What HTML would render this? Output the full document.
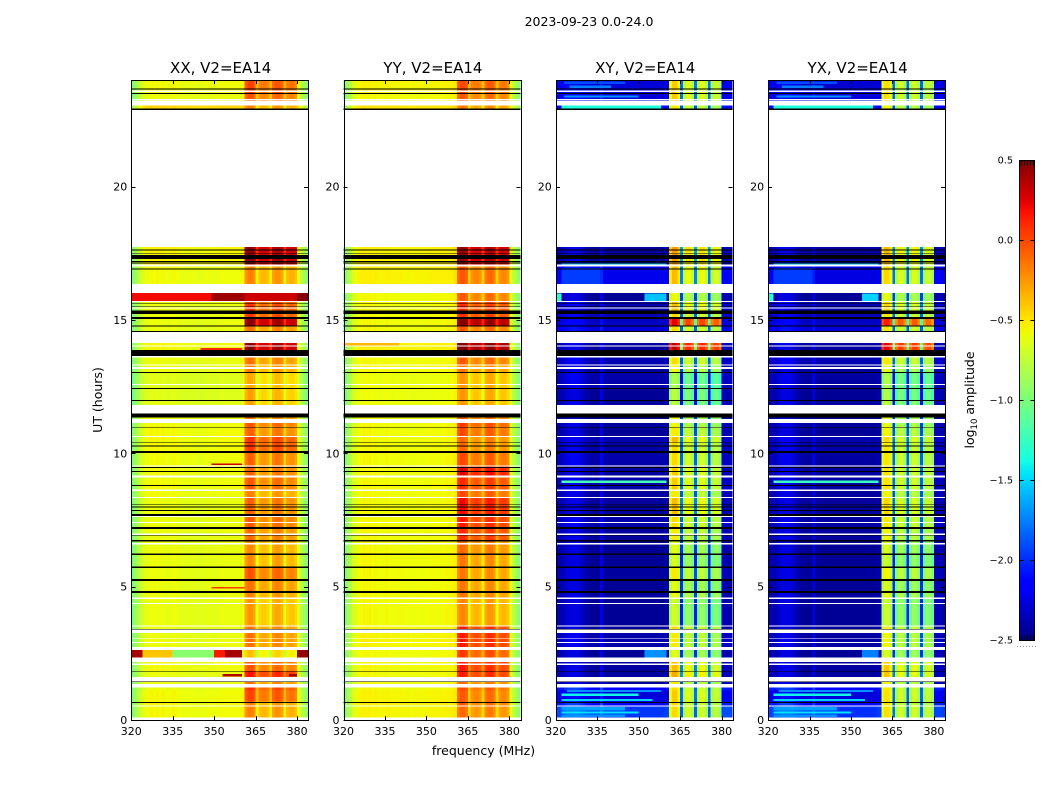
<!DOCTYPE html>
<html>
<head>
<meta charset="utf-8">
<title>2023-09-23 0.0-24.0</title>
<style>
html,body{margin:0;padding:0;background:#fff;}
svg{display:block;}
text{font-family:"DejaVu Sans","Liberation Sans",sans-serif;fill:#000;}
</style>
</head>
<body>
<svg id="chart" xmlns="http://www.w3.org/2000/svg" width="1050" height="800" viewBox="0 0 1050 800">
  <rect x="0" y="0" width="1050" height="800" fill="#fff"/>
  <text x="589" y="26" font-size="12.5" text-anchor="middle">2023-09-23 0.0-24.0</text>
  <text transform="translate(102,400) rotate(-90)" font-size="12.5" text-anchor="middle">UT (hours)</text>
  <text x="483.5" y="755" font-size="12.5" text-anchor="middle">frequency (MHz)</text>
  <text transform="translate(974,400) rotate(-90)" font-size="12.5" text-anchor="middle">log<tspan font-size="8.5" dy="3">10</tspan><tspan dy="-3"> amplitude</tspan></text>
  <g id="panels"></g>
  <g id="colorbar"></g>
</svg>
<script>
// ---------- axis tick values ----------
const freqTicks = [320, 335, 350, 365, 380];
const hourTicks = [0, 5, 10, 15, 20];
const colorTicks = [-2.5, -2.0, -1.5, -1.0, -0.5, 0.0, 0.5];
const colorTickLabels = ['\u22122.5', '\u22122.0', '\u22121.5', '\u22121.0', '\u22120.5', '0.0', '0.5'];
const panelTitles = ['XX, V2=EA14', 'YY, V2=EA14', 'XY, V2=EA14', 'YX, V2=EA14'];

// ---------- spectra: log10 amplitude for each 1 MHz channel, 320-384 MHz ----------
const xxProfile = [-1.0,-.9,-.8,-.72,-.64,-.61,-.6,-.58,-.6,-.58,-.6,-.58,-.6,-.61,-.6,-.58,-.6,-.61,-.62,-.62,-.61,-.62,-.62,-.62,-.63,-.63,-.62,-.62,-.61,-.62,-.62,-.61,-.6,-.6,-.6,-.6,-.6,-.6,-.6,-.6,-.58,-.3,-.22,-.22,-.28,-.6,-.44,-.4,-.4,-.44,-.6,-.34,-.28,-.28,-.34,-.6,-.42,-.38,-.38,-.44,-.62,-.76,-.86,-.96];
const yyProfile = [-1.0,-.9,-.78,-.68,-.61,-.58,-.57,-.55,-.56,-.55,-.57,-.56,-.57,-.58,-.57,-.56,-.57,-.58,-.58,-.58,-.57,-.58,-.58,-.58,-.59,-.58,-.58,-.58,-.58,-.58,-.58,-.57,-.57,-.57,-.57,-.57,-.57,-.56,-.56,-.55,-.53,-.22,-.14,-.14,-.2,-.52,-.34,-.3,-.3,-.34,-.52,-.26,-.2,-.2,-.26,-.52,-.34,-.3,-.3,-.36,-.62,-.76,-.86,-.96];
const xyProfile = [-2.4,-2.4,-2.42,-2.34,-2.3,-2.28,-2.28,-2.28,-2.3,-2.34,-2.4,-2.44,-2.46,-2.47,-2.47,-2.47,-2.25,-2.47,-2.47,-2.47,-2.47,-2.47,-2.47,-2.47,-2.47,-2.47,-2.47,-2.47,-2.47,-2.47,-2.47,-2.47,-2.47,-2.47,-2.47,-2.47,-2.47,-2.47,-2.47,-2.45,-2.42,-.72,-.56,-.56,-.72,-1.95,-.95,-.78,-.78,-.95,-1.95,-.95,-.78,-.78,-.95,-1.95,-1.0,-.86,-.86,-1.02,-2.4,-2.4,-2.4,-2.42];
const yxProfile = [-2.4,-2.4,-2.42,-2.34,-2.3,-2.28,-2.28,-2.28,-2.3,-2.34,-2.4,-2.44,-2.46,-2.47,-2.47,-2.47,-2.27,-2.47,-2.47,-2.47,-2.47,-2.47,-2.47,-2.47,-2.47,-2.47,-2.47,-2.47,-2.47,-2.47,-2.47,-2.47,-2.47,-2.47,-2.47,-2.47,-2.47,-2.47,-2.47,-2.45,-2.42,-.76,-.6,-.6,-.76,-1.95,-.98,-.8,-.8,-.98,-1.95,-.98,-.8,-.8,-.98,-1.95,-1.0,-.86,-.86,-1.02,-2.4,-2.4,-2.4,-2.42];

// ---------- time bands (hours) and per-band level changes ----------
const bandStarts = [0,0.55,0.70,1.10,1.35,1.61,1.84,2.35,2.74,3.39,3.55,4.59,4.84,5.29,5.76,6.25,6.75,7.24,7.72,8.37,8.65,9.16,9.55,10.08,10.43,10.65,11.0,11.28,11.82,12.0,12.45,13.05,13.34,13.88,14.59,14.79,15.11,15.33,15.71,16.35,17.08,22.94,23.21,23.51];
const xxLow  = [.03,.03,.03,0,0,0,.02,-.1,0,0,0,0,0,0,0,0,0,0,0,.02,.02,.02,.02,.03,.03,.03,.02,0,-.03,-.04,-.04,0,0,.03,0,0,0,0,0,.02,.05,.15,0,.02];
const xxHigh = [.05,.05,.25,.3,.1,.4,.2,-.15,.1,.1,-.02,.05,.1,.2,.02,.02,.12,.18,.15,.05,.18,.15,.15,.3,.3,.15,.2,.1,-.05,-.05,-.08,.05,.1,.7,.1,.7,.3,.3,.35,.05,.7,.05,.2,.25];
const yyLow  = [.02,.02,.02,0,0,0,0,0,.02,.02,0,0,0,0,0,0,0,0,0,0,0,0,0,0,0,0,0,-.02,-.02,-.02,-.02,0,0,.03,0,0,0,0,0,.03,.03,.08,0,.02];
const yyHigh = [.05,.1,.1,.15,.05,.3,.3,.2,.3,.3,-.05,0,0,0,0,.05,.25,.3,.35,.15,.25,.4,.15,.05,.05,.15,.2,.1,-.1,-.1,-.1,0,.1,.7,.1,.65,.25,.25,.1,.1,.6,0,.1,.15];
const xyLow  = [.5,.35,.2,.35,.05,.05,.05,.03,.08,.05,.03,.05,.03,.05,.03,.03,.05,.08,.05,.05,.08,.05,.08,.08,.1,.03,.05,0,.05,.03,.08,.05,.1,.05,.2,.15,.1,.1,.03,.25,.05,.3,.2,.2];
const xyHigh = [.1,.1,.15,.1,.05,.25,.2,-.05,.05,.1,-.12,0,-.05,.05,-.1,-.05,.05,.1,.2,.05,.15,.15,.1,.1,.2,.05,0,0,-.2,-.2,-.25,0,.1,.9,.1,.8,.1,.2,0,.2,.3,.05,.15,.15];
const yxLow  = [.48,.35,.2,.35,.05,.05,.05,.03,.06,.05,.03,.05,.03,.05,.03,.03,.05,.06,.05,.05,.06,.05,.06,.08,.1,.03,.05,0,.05,.03,.06,.05,.1,.05,.2,.15,.1,.1,.03,.22,.05,.28,.2,.18];
const yxHigh = [.12,.1,.12,.1,.05,.2,.2,-.05,.05,.08,-.1,0,-.05,.05,-.1,-.05,.05,.1,.15,.05,.12,.12,.1,.1,.15,.05,0,0,-.15,-.2,-.2,0,.1,.85,.1,.75,.1,.15,0,.15,.25,.05,.12,.12];

// ---------- localised bursts: start hour, end hour, start MHz, end MHz, log10 amplitude ----------
const xxBursts = [[1.64,1.72,353,360,.35],[1.64,1.72,377,380,.4],[2.35,2.63,320,324,.4],[2.35,2.63,324,335,-.4],[2.35,2.63,335,350,-.95],[2.35,2.63,350,354,.15],[2.35,2.63,354,360,.4],[2.35,2.63,380,384,.45],[4.93,4.98,349,361,.05],[9.56,9.62,349,360,.3],[13.88,13.95,345,360,.1],[15.71,16.01,320,349,.2],[15.71,16.01,349,361,.42],[15.71,16.01,361,380,.3],[15.71,16.01,380,384,.48]];
const yyBursts = [[14.05,14.14,320,340,-.35],[9.12,9.16,325,345,-.35]];
const xyBursts = [[0.12,0.2,322,345,-1.7],[0.25,0.32,322,350,-1.45],[0.36,0.48,322,345,-1.65],[0.72,0.78,322,355,-1.5],[0.9,1.0,322,350,-1.4],[1.05,1.12,324,358,-1.7],[2.35,2.63,352,360,-1.7],[8.88,8.98,322,360,-1.2],[15.71,16.0,320,322,-1.3],[15.71,16.0,352,360,-1.55],[16.35,16.95,322,336,-1.95],[17.08,17.15,322,360,-1.6],[22.94,23.04,322,358,-1.35],[23.35,23.42,323,350,-1.7],[23.7,23.8,325,340,-1.75],[23.85,23.95,323,345,-1.9]];
const yxBursts = [[0.12,0.2,322,345,-1.7],[0.25,0.32,322,350,-1.45],[0.36,0.48,322,345,-1.65],[0.72,0.78,322,355,-1.5],[0.9,1.0,322,350,-1.4],[1.05,1.12,324,358,-1.7],[2.35,2.63,354,360,-1.75],[8.88,8.98,322,360,-1.25],[15.71,16.0,320,322,-1.35],[15.71,16.0,354,360,-1.5],[16.35,16.95,322,336,-1.95],[17.08,17.15,322,360,-1.6],[22.94,23.04,322,358,-1.35],[23.35,23.42,323,350,-1.7],[23.7,23.8,325,340,-1.75],[23.85,23.95,323,345,-1.9]];

// ---------- flagged time ranges in hours ----------
const missingRanges = [[0,.10],[.50,.55],[1.21,1.35],[1.45,1.61],[2.06,2.11],[2.18,2.35],[2.63,2.74],[2.89,2.93],[3.03,3.06],[3.26,3.39],[3.50,3.55],[4.35,4.39],[4.54,4.59],[6.59,6.63],[6.94,6.99],[7.39,7.43],[7.61,7.65],[8.33,8.37],[8.58,8.65],[9.10,9.16],[9.51,9.55],[10.61,10.65],[11.14,11.28],[11.50,11.82],[12.56,12.60],[13.16,13.24],[13.29,13.34],[13.59,13.65],[14.00,14.05],[14.14,14.55],[15.43,15.47],[15.68,15.71],[16.01,16.35],[17.00,17.08],[17.73,22.875],[23.04,23.21],[23.24,23.28],[23.55,23.60]];
const flagRanges = [[.64,.68],[1.43,1.45],[1.81,1.84],[3.39,3.41],[4.77,4.84],[5.21,5.29],[5.70,5.76],[6.19,6.25],[6.69,6.75],[6.91,6.94],[7.17,7.24],[7.65,7.72],[7.84,7.88],[7.96,8.00],[8.06,8.09],[8.78,8.81],[9.30,9.34],[9.45,9.49],[10.02,10.08],[10.25,10.29],[10.40,10.43],[10.96,10.99],[11.35,11.50],[11.97,12.00],[12.42,12.45],[13.02,13.05],[13.65,13.88],[14.55,14.59],[14.76,14.79],[15.04,15.11],[15.22,15.33],[15.35,15.38],[15.49,15.51],[15.60,15.62],[16.89,16.93],[17.12,17.15],[17.17,17.21],[17.29,17.44],[17.49,17.52],[17.61,17.65],[22.875,22.94],[23.48,23.51],[23.65,23.69]];

const panelData = [
  {key:'xx', profile:xxProfile, low:xxLow, high:xxHigh, bursts:xxBursts},
  {key:'yy', profile:yyProfile, low:yyLow, high:yyHigh, bursts:yyBursts},
  {key:'xy', profile:xyProfile, low:xyLow, high:xyHigh, bursts:xyBursts},
  {key:'yx', profile:yxProfile, low:yxLow, high:yxHigh, bursts:yxBursts}
];

const SVGNS = 'http://www.w3.org/2000/svg';
const PLOT_TOP = 80, PLOT_BOTTOM = 720, PANEL_W = 176.9;
const PANEL_LEFTS = [131.25, 343.5, 555.8, 768.1];
const FREQ_MIN = 320, FREQ_MAX = 384, HOUR_MAX = 24, HIGH_START_CHANNEL = 41, HIGH_END_CHANNEL = 60;
const V_MIN = -2.5, V_MAX = 0.5;
const CB_LEFT = 1019.5, CB_RIGHT = 1034.5, CB_TOP = 160.5, CB_BOTTOM = 640.5;

function yScale(h){ return PLOT_BOTTOM - h * (PLOT_BOTTOM - PLOT_TOP) / HOUR_MAX; }
function xScale(left, f){ return left + (f - FREQ_MIN) * PANEL_W / (FREQ_MAX - FREQ_MIN); }
function cbScale(v){ return CB_BOTTOM - (v - V_MIN) / (V_MAX - V_MIN) * (CB_BOTTOM - CB_TOP); }

function interp(points, t){
  for (let i = 1; i < points.length; i++) {
    if (t <= points[i][0]) {
      const a = points[i-1], b = points[i];
      return a[1] + (b[1]-a[1]) * (t-a[0]) / (b[0]-a[0]);
    }
  }
  return points[points.length-1][1];
}
const jetR = [[0,0],[.35,0],[.66,1],[.89,1],[1,.5]];
const jetG = [[0,0],[.125,0],[.375,1],[.64,1],[.91,0],[1,0]];
const jetB = [[0,.5],[.11,1],[.34,1],[.65,0],[1,0]];
function jet(v){
  const t = Math.max(0, Math.min(1, (v - V_MIN) / (V_MAX - V_MIN)));
  const c = p => Math.round(255 * interp(p, t));
  return 'rgb(' + c(jetR) + ',' + c(jetG) + ',' + c(jetB) + ')';
}
function mk(parent, tag, attrs){
  const el = document.createElementNS(SVGNS, tag);
  for (const k in attrs) el.setAttribute(k, attrs[k]);
  parent.appendChild(el);
  return el;
}

const panelsRoot = document.getElementById('panels');
panelData.forEach((panel, p) => {
  const left = PANEL_LEFTS[p];
  const group = mk(panelsRoot, 'g', {});
  
  

  // heatmap cells
  bandStarts.forEach((start, b) => {
    const end = b + 1 < bandStarts.length ? bandStarts[b+1] : HOUR_MAX;
    panel.profile.forEach((base, ch) => {
      const isHigh = ch >= HIGH_START_CHANNEL && ch < HIGH_END_CHANNEL;
      const value = base + (isHigh ? panel.high[b] : panel.low[b]);
      const x0 = xScale(left, FREQ_MIN + ch), x1 = xScale(left, FREQ_MIN + ch + 1);
      const cell = mk(group, 'rect', {x:x0, y:yScale(end), width:x1-x0, height:yScale(start)-yScale(end), fill:jet(value), 'shape-rendering':'crispEdges'});
      
      
    });
  });

  // localised bursts
  panel.bursts.forEach(bu => {
    const x0 = xScale(left, bu[2]), x1 = xScale(left, bu[3]);
    const burst = mk(group, 'rect', {x:x0, y:yScale(bu[1]), width:x1-x0, height:yScale(bu[0])-yScale(bu[1]), fill:jet(bu[4]), 'shape-rendering':'crispEdges'});
    
    
  });

  // missing data (white) and flagged lines (black)
  missingRanges.forEach(r => {
    const gap = mk(group, 'rect', {x:left, y:yScale(r[1]), width:PANEL_W, height:yScale(r[0])-yScale(r[1]), fill:'#fff', 'shape-rendering':'crispEdges'});
    
    
  });
  flagRanges.forEach(r => {
    const line = mk(group, 'rect', {x:left, y:yScale(r[1]), width:PANEL_W, height:yScale(r[0])-yScale(r[1]), fill:'#000', 'shape-rendering':'crispEdges'});
    
    
  });

  // frame
  const frame = mk(group, 'rect', {x:Math.round(left)+.5, y:PLOT_TOP+.5, width:Math.round(PANEL_W), height:PLOT_BOTTOM-PLOT_TOP, fill:'none', stroke:'#000', 'stroke-width':1, 'shape-rendering':'crispEdges'});
  
  

  // x ticks
  freqTicks.forEach(f => {
    const x = Math.round(xScale(left, f)) + .5;
    const tb = mk(group, 'line', {x1:x, x2:x, y1:PLOT_BOTTOM, y2:PLOT_BOTTOM-4, stroke:'#000', 'shape-rendering':'crispEdges'});
    
    
    const tt = mk(group, 'line', {x1:x, x2:x, y1:PLOT_TOP, y2:PLOT_TOP+4, stroke:'#000', 'shape-rendering':'crispEdges'});
    
    
    const lab = mk(group, 'text', {x:xScale(left, f), y:735, 'font-size':11, 'text-anchor':'middle'});
    lab.textContent = String(f);
    
    
  });

  // y ticks
  hourTicks.forEach(h => {
    const y = Math.round(yScale(h)) + .5;
    const right = left + PANEL_W;
    const tl = mk(group, 'line', {x1:left, x2:left+4, y1:y, y2:y, stroke:'#000', 'shape-rendering':'crispEdges'});
    
    
    const tr = mk(group, 'line', {x1:right-4, x2:right, y1:y, y2:y, stroke:'#000', 'shape-rendering':'crispEdges'});
    
    
    const lab = mk(group, 'text', {x:left-4, y:yScale(h)+4, 'font-size':11, 'text-anchor':'end'});
    lab.textContent = String(h);
    
    
  });

  // title
  const title = mk(group, 'text', {x:left+PANEL_W/2+1, y:73, 'font-size':15, 'text-anchor':'middle'});
  title.textContent = panelTitles[p];
  
  
});

// ---------- colorbar ----------
const cbRoot = document.getElementById('colorbar');
const defs = mk(cbRoot, 'defs', {});
const grad = mk(defs, 'linearGradient', {id:'jetGradient', x1:0, y1:1, x2:0, y2:0});
for (let i = 0; i <= 48; i++) {
  mk(grad, 'stop', {offset:(i/48), 'stop-color':jet(V_MIN + (V_MAX - V_MIN) * i / 48)});
}
const cbFill = mk(cbRoot, 'rect', {x:CB_LEFT, y:CB_TOP, width:CB_RIGHT-CB_LEFT, height:CB_BOTTOM-CB_TOP, fill:'url(#jetGradient)', stroke:'#000', 'stroke-width':1, 'shape-rendering':'crispEdges'});



colorTicks.forEach((v, i) => {
  const y = Math.round(cbScale(v) - .5) + .5;
  const a = mk(cbRoot, 'line', {x1:CB_LEFT, x2:CB_LEFT+4, y1:y, y2:y, stroke:'#000', 'shape-rendering':'crispEdges'});
  
  
  const b = mk(cbRoot, 'line', {x1:CB_RIGHT-4, x2:CB_RIGHT, y1:y, y2:y, stroke:'#000', 'shape-rendering':'crispEdges'});
  
  
  const lab = mk(cbRoot, 'text', {x:1013, y:cbScale(v)+3, 'font-size':9.7, 'text-anchor':'end'});
  lab.textContent = colorTickLabels[i];
  
  
});
[0, 1, 2, 3, 4].forEach(i => {
  const x = Math.round(CB_LEFT + (i + .5) * (CB_RIGHT - CB_LEFT) / 5) + .5;
  const top = mk(cbRoot, 'line', {x1:x, x2:x, y1:CB_TOP, y2:CB_TOP+5, stroke:'#000', 'shape-rendering':'crispEdges'});
  
  
  const bot = mk(cbRoot, 'line', {x1:x, x2:x, y1:CB_BOTTOM-5, y2:CB_BOTTOM, stroke:'#000', 'shape-rendering':'crispEdges'});
  
  
});
[0, 1, 2, 3, 4, 5, 6].forEach(i => {
  const dot = mk(cbRoot, 'rect', {x:1017 + i * 3, y:646, width:1, height:1, fill:'#999', 'shape-rendering':'crispEdges'});
  
  
});
</script>
</body>
</html>
